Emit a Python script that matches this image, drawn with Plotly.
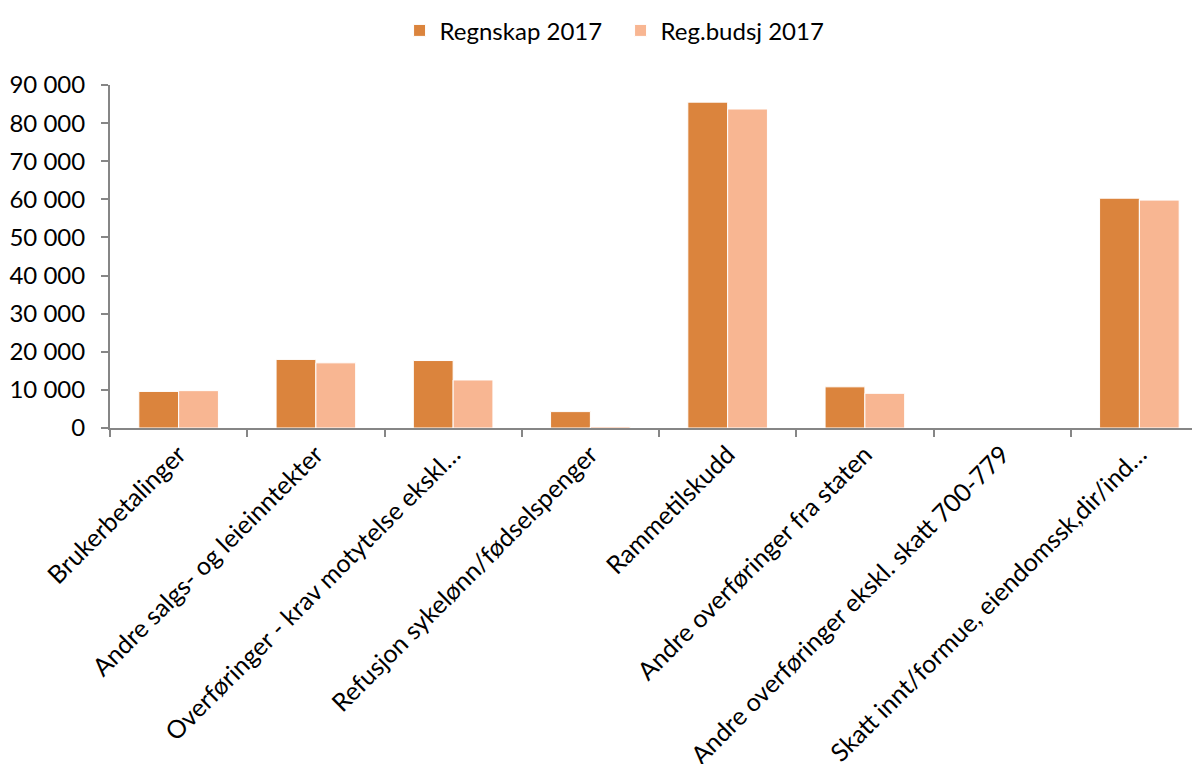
import plotly.graph_objects as go

categories = [
    "Brukerbetalinger",
    "Andre salgs- og leieinntekter",
    "Overføringer - krav motytelse ekskl…",
    "Refusjon sykelønn/fødselspenger",
    "Rammetilskudd",
    "Andre overføringer fra staten",
    "Andre overføringer ekskl. skatt 700-779",
    "Skatt innt/formue, eiendomssk,dir/ind…",
]
regnskap_2017 = [9600, 18000, 17700, 4300, 85500, 10800, 0, 60300]
regbudsj_2017 = [9800, 17100, 12600, 400, 83700, 9100, 0, 59800]

FONT = "Lato"
AXIS_COLOR = "#868686"

fig = go.Figure()
fig.add_trace(go.Bar(
    name="Regnskap 2017", x=categories, y=regnskap_2017,
    marker=dict(color="#DB843D", line=dict(color="white", width=1)),
))
fig.add_trace(go.Bar(
    name="Reg.budsj 2017", x=categories, y=regbudsj_2017,
    marker=dict(color="#F8B692", line=dict(color="white", width=1)),
))

fig.update_layout(
    width=1200, height=764,
    margin=dict(l=102, r=0, t=72, b=344),
    paper_bgcolor="white", plot_bgcolor="white",
    barmode="group", bargap=0.42, bargroupgap=0,
    separators=", ",
    font=dict(family=FONT, size=24, color="black"),
    showlegend=True,
    legend=dict(orientation="h", x=0.465, xanchor="center", y=1.158, yanchor="middle",
                font=dict(family=FONT, size=24), itemwidth=30, traceorder="normal",
                entrywidth=176, entrywidthmode="pixels"),
)
fig.update_xaxes(
    range=[-0.5, 7.5], tickangle=-45, tickson="boundaries",
    ticks="outside", ticklen=7, tickcolor=AXIS_COLOR, tickwidth=2,
    showline=True, linecolor=AXIS_COLOR, linewidth=2,
    showgrid=False, tickfont=dict(family=FONT, size=25),
)
fig.update_yaxes(
    range=[0, 90000], dtick=10000, tickformat=",d",
    ticks="outside", ticklen=7, tickcolor=AXIS_COLOR, tickwidth=2,
    showline=True, linecolor=AXIS_COLOR, linewidth=2, ticklabelstandoff=11,
    showgrid=False, zeroline=False, tickfont=dict(family=FONT, size=24),
)

fig.write_html("out.html")
